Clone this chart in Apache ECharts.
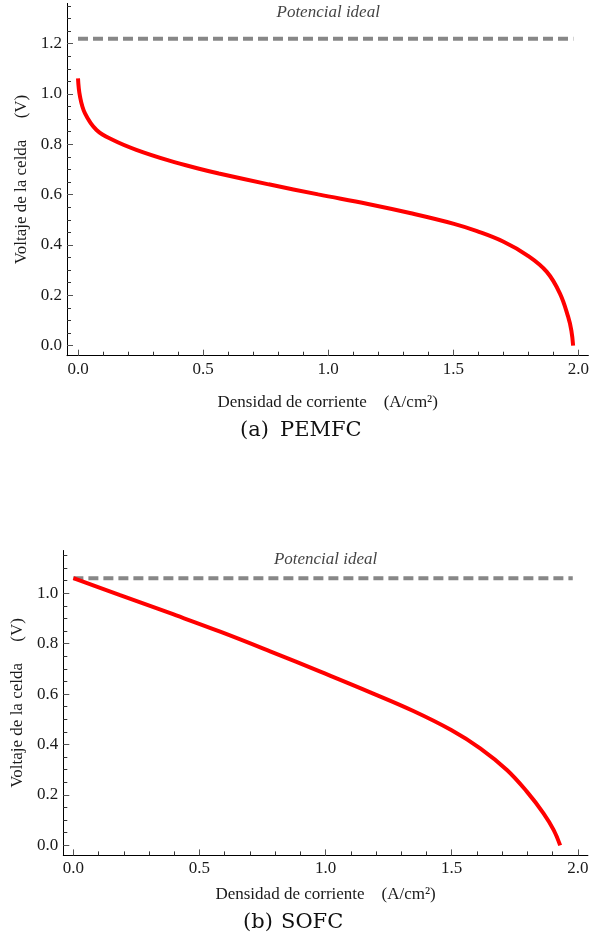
<!DOCTYPE html>
<html>
<head>
<meta charset="utf-8">
<script src="https://cdn.jsdelivr.net/npm/echarts@6/dist/echarts.min.js"></script>
<style>
html,body{margin:0;padding:0;background:#fff;}
#chart{width:592px;height:949px;}
</style>
</head>
<body>
<div id="chart"></div>
<script>
// ---- Data ----
// PEMFC polarization curve
const pemCurrent = [0, 0.008, 0.028, 0.074, 0.14, 0.233, 0.365, 0.484, 0.563, 0.762, 0.96, 1.159, 1.331, 1.503, 1.595, 1.701, 1.794, 1.873, 1.926, 1.959, 1.972, 1.979];
const pemVoltage = [1.062, 0.99, 0.923, 0.857, 0.817, 0.778, 0.735, 0.703, 0.684, 0.641, 0.601, 0.563, 0.526, 0.484, 0.455, 0.413, 0.36, 0.294, 0.208, 0.115, 0.06, 0.0];
// SOFC polarization curve
const sofcCurrent = [0, 0.185, 0.384, 0.582, 0.78, 0.979, 1.177, 1.348, 1.498, 1.613, 1.719, 1.798, 1.864, 1.904, 1.93];
const sofcVoltage = [1.06, 0.993, 0.921, 0.848, 0.77, 0.689, 0.607, 0.533, 0.4575, 0.385, 0.299, 0.213, 0.127, 0.061, 0.0];
// Ideal potential lines (x extent and voltage)
const idealCurrent = [0, 1.98];
const pemIdeal = 1.22;
const sofcIdeal = 1.06;
// Tick values
const xMajorTicks = [0, 0.5, 1.0, 1.5, 2.0];
const xMinorTicks = [0.1,0.2,0.3,0.4,0.6,0.7,0.8,0.9,1.1,1.2,1.3,1.4,1.6,1.7,1.8,1.9];
const pemYMajor = [0, 0.2, 0.4, 0.6, 0.8, 1.0, 1.2];
const pemYMinor = [0.05,0.1,0.15,0.25,0.3,0.35,0.45,0.5,0.55,0.65,0.7,0.75,0.85,0.9,0.95,1.05,1.1,1.15,1.25,1.3,1.35];
const sofcYMajor = [0, 0.2, 0.4, 0.6, 0.8, 1.0];
const sofcYMinor = [0.05,0.1,0.15,0.25,0.3,0.35,0.45,0.5,0.55,0.65,0.7,0.75,0.85,0.9,0.95,1.05,1.1,1.15];
// Texts
const xName = 'Densidad de corriente    (A/cm\u00B2)';
const yName = 'Voltaje de la celda     (V)';
const idealText = 'Potencial ideal';

const zip = (a, b) => a.map((v, i) => [v, b[i]]);
const serif = 'Liberation Serif, Times New Roman, serif';
const fmt = v => v.toFixed(1);

function xAxes(grid, min, max, nameGap) {
  return [
    {
      gridIndex: grid, type: 'value', position: 'bottom', min: min, max: max,
      axisLine: { onZero: false, lineStyle: { color: '#000', width: 1 } },
      splitLine: { show: false },
      axisTick: { inside: true, length: 6, customValues: xMajorTicks, lineStyle: { color: '#555', width: 1 } },
      axisLabel: { customValues: xMajorTicks, formatter: fmt, margin: 5, fontFamily: serif, fontSize: 17, color: '#1a1a1a' },
      name: xName, nameLocation: 'middle', nameGap: nameGap,
      nameTextStyle: { fontFamily: serif, fontSize: 17, color: '#1a1a1a' }
    },
    {
      gridIndex: grid, type: 'value', position: 'bottom', min: min, max: max,
      axisLine: { show: false, onZero: false },
      splitLine: { show: false },
      axisTick: { inside: true, length: 4, customValues: xMinorTicks, lineStyle: { color: '#333', width: 1 } },
      axisLabel: { show: false }
    }
  ];
}
function yAxes(grid, min, max, major, minor, nameGap) {
  return [
    {
      gridIndex: grid, type: 'value', position: 'left', min: min, max: max,
      axisLine: { onZero: false, lineStyle: { color: '#000', width: 1 } },
      splitLine: { show: false },
      axisTick: { inside: true, length: 6, customValues: major, lineStyle: { color: '#555', width: 1 } },
      axisLabel: { customValues: major, formatter: fmt, margin: 5, fontFamily: serif, fontSize: 17, color: '#1a1a1a' },
      name: yName, nameLocation: 'middle', nameGap: nameGap,
      nameTextStyle: { fontFamily: serif, fontSize: 17, color: '#1a1a1a' }
    },
    {
      gridIndex: grid, type: 'value', position: 'left', min: min, max: max,
      axisLine: { show: false, onZero: false },
      splitLine: { show: false },
      axisTick: { inside: true, length: 4, customValues: minor, lineStyle: { color: '#333', width: 1 } },
      axisLabel: { show: false }
    }
  ];
}

const chart = echarts.init(document.getElementById('chart'), null, { renderer: 'canvas' });

const curveStyle = { color: '#ff0000', width: 4 };
const idealStyle = { color: '#878787', width: 4, type: [10, 5], cap: 'butt' };

const option = {
  animation: false,
  backgroundColor: '#ffffff',
  grid: [
    { left: 67, top: 3.4, width: 525, height: 352.3, containLabel: false },
    { left: 63.3, top: 550.5, width: 524.6, height: 304.9, containLabel: false }
  ],
  xAxis: [].concat(xAxes(0, -0.044, 2.04, 38), xAxes(1, -0.04, 2.04, 31)),
  yAxis: [].concat(yAxes(0, -0.04, 1.36, pemYMajor, pemYMinor, 34), yAxes(1, -0.04, 1.17, sofcYMajor, sofcYMinor, 34)),
  series: [
    {
      type: 'line', xAxisIndex: 0, yAxisIndex: 0, symbol: 'none',
      data: idealCurrent.map(x => [x, pemIdeal]), lineStyle: idealStyle, z: 2
    },
    {
      type: 'line', xAxisIndex: 0, yAxisIndex: 0, symbol: 'none', smooth: 0.4,
      data: zip(pemCurrent, pemVoltage), lineStyle: curveStyle, z: 3
    },
    {
      type: 'scatter', xAxisIndex: 0, yAxisIndex: 0, symbolSize: 0, silent: true,
      data: [[1.0, 1.322]],
      label: { show: true, position: 'inside', formatter: idealText, fontFamily: serif, fontStyle: 'italic', fontSize: 17, color: '#111' }
    },
    {
      type: 'line', xAxisIndex: 2, yAxisIndex: 2, symbol: 'none',
      data: idealCurrent.map(x => [x, sofcIdeal]), lineStyle: idealStyle, z: 2
    },
    {
      type: 'line', xAxisIndex: 2, yAxisIndex: 2, symbol: 'none', smooth: 0.4,
      data: zip(sofcCurrent, sofcVoltage), lineStyle: curveStyle, z: 3
    },
    {
      type: 'scatter', xAxisIndex: 2, yAxisIndex: 2, symbolSize: 0, silent: true,
      data: [[1.0, 1.136]],
      label: { show: true, position: 'inside', formatter: idealText, fontFamily: serif, fontStyle: 'italic', fontSize: 17, color: '#111' }
    }
  ],
  graphic: [
    { type: 'text', left: 240, top: 420, style: { text: '(a)', font: '21px "DejaVu Serif", serif', fill: '#111' } },
    { type: 'text', left: 280, top: 420, style: { text: 'PEMFC', font: '21px "DejaVu Serif", serif', fill: '#111' } },
    { type: 'text', left: 243, top: 912, style: { text: '(b)', font: '21px "DejaVu Serif", serif', fill: '#111' } },
    { type: 'text', left: 281, top: 912, style: { text: 'SOFC', font: '21px "DejaVu Serif", serif', fill: '#111' } }
  ]
};
chart.setOption(option);
</script>
</body>
</html>
